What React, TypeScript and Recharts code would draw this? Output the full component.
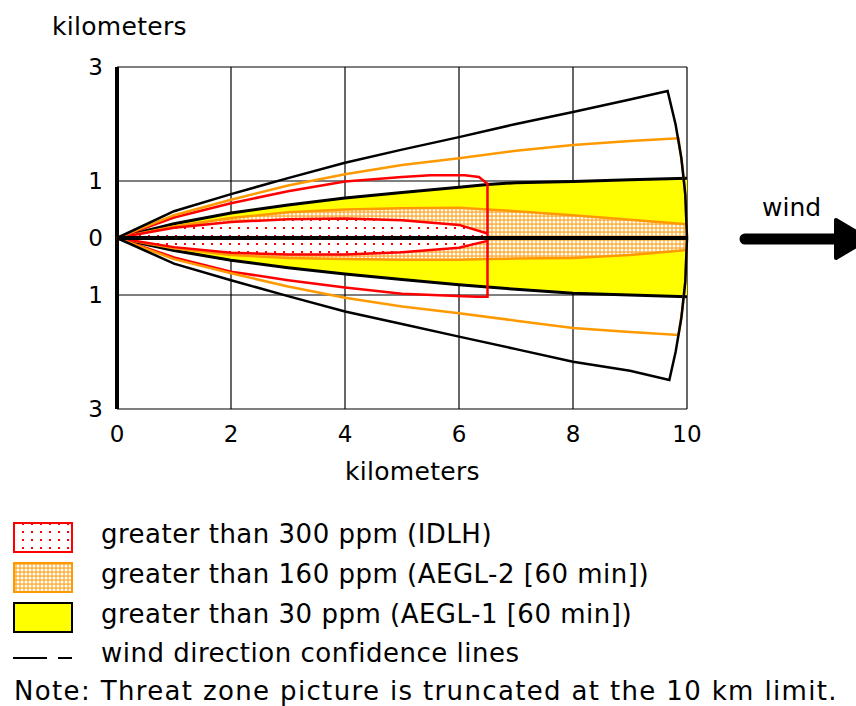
import React from 'react';
import { ComposedChart, Area, Scatter, XAxis, YAxis, CartesianGrid } from 'recharts';

const FONT = '"DejaVu Sans", Verdana, sans-serif';

// threat zone footprints, sampled along the wind axis (km)
const footX = [0, 1, 2, 3, 4, 5, 6, 6.5, 7, 8, 9, 10];
const aegl1Upper = [0, 0.25, 0.44, 0.58, 0.7, 0.8, 0.89, 0.94, 0.97, 0.99, 1.02, 1.05];
const aegl1Lower = [0, -0.22, -0.39, -0.52, -0.63, -0.73, -0.82, -0.86, -0.9, -0.97, -1.0, -1.03];
const aegl2Upper = [0, 0.2, 0.35, 0.45, 0.5, 0.52, 0.53, 0.5, 0.47, 0.4, 0.32, 0.24];
const aegl2Lower = [0, -0.18, -0.3, -0.35, -0.37, -0.38, -0.38, -0.37, -0.36, -0.35, -0.3, -0.21];
const idlhUpper = [0, 0.18, 0.28, 0.33, 0.34, 0.31, 0.23, 0.08, null, null, null, null];
const idlhLower = [0, -0.16, -0.26, -0.29, -0.29, -0.25, -0.17, -0.05, null, null, null, null];

// confidence lines, in drawing order (x km, y km)
const blackConfX = [0, 1, 2, 3, 4, 5, 6, 7, 8, 9, 9.66, 9.8, 9.9, 9.97, 10, 9.97, 9.9, 9.8, 9.69, 9, 8, 7, 6, 5, 4, 3, 2, 1, 0];
const blackConfY = [0, 0.47, 0.77, 1.05, 1.32, 1.55, 1.77, 2.0, 2.21, 2.43, 2.58, 1.99, 1.41, 0.77, 0, -0.77, -1.41, -2.0, -2.49, -2.33, -2.17, -1.95, -1.73, -1.51, -1.29, -1.02, -0.74, -0.45, 0];
const orangeConfX = [0, 1, 2, 3, 4, 5, 6, 7, 8, 9, 9.85, 9.92, 9.97, 10, 9.97, 9.92, 9.85, 9, 8, 7, 6, 5, 4, 3, 2, 1, 0];
const orangeConfY = [0, 0.4, 0.67, 0.92, 1.12, 1.28, 1.4, 1.53, 1.63, 1.7, 1.75, 1.25, 0.75, 0, -0.75, -1.25, -1.7, -1.65, -1.58, -1.45, -1.32, -1.2, -1.05, -0.85, -0.62, -0.37, 0];
const redConfX = [0, 1, 2, 3, 4, 5, 5.5, 6.1, 6.35, 6.5, 6.5, 6.3, 5, 4, 3, 2, 1, 0];
const redConfY = [0, 0.36, 0.61, 0.82, 0.99, 1.07, 1.1, 1.1, 1.07, 0.95, -1.03, -1.03, -0.98, -0.87, -0.74, -0.59, -0.34, 0];
const centerX = [0, 10];
const centerY = [0, 0];

const xTicks = [0, 2, 4, 6, 8, 10];
const yTicks = [-3, -1, 0, 1, 3];

const legendLabels = [
  'greater than 300 ppm (IDLH)',
  'greater than 160 ppm (AEGL-2 [60 min])',
  'greater than 30 ppm (AEGL-1 [60 min])',
  'wind direction confidence lines',
];
const noteText = 'Note: Threat zone picture is truncated at the 10 km limit.';

const table = footX.map((x, i) => ({
  x,
  aegl1: [aegl1Lower[i], aegl1Upper[i]],
  aegl2: [aegl2Lower[i], aegl2Upper[i]],
  idlh: idlhUpper[i] == null ? null : [idlhLower[i], idlhUpper[i]],
}));

const toPoints = (xs: number[], ys: number[]) => xs.map((x, i) => ({ x, y: ys[i] }));

const NoDot = () => <g />;

const Patterns = () => (
  <svg width={0} height={0} style={{ position: 'absolute' }}>
    <defs>
      <pattern id="redDots" width={9} height={8} patternUnits="userSpaceOnUse">
        <rect width={9} height={8} fill="#fff" />
        <rect x={4} y={3} width={2} height={2} fill="#ff0000" />
      </pattern>
      <pattern id="orangeDots" width={4} height={4} patternUnits="userSpaceOnUse">
        <rect width={4} height={4} fill="#ffb040" />
        <circle cx={2} cy={2} r={1.5} fill="#fff" />
      </pattern>
    </defs>
  </svg>
);

export default function App() {
  const txt = { fontFamily: FONT, fill: '#000' };
  const rowBase = [543, 583, 623, 662];
  return (
    <div style={{ position: 'absolute', left: 0, top: 0, width: 856, height: 706, background: '#fff', overflow: 'hidden' }}>
      <Patterns />
      <div style={{ position: 'absolute', left: 0, top: 0 }}>
        <ComposedChart
          width={856}
          height={706}
          data={table}
          margin={{ top: 67, right: 169, bottom: 267, left: 57 }}
        >
          <CartesianGrid stroke="#000" strokeWidth={1.2} />
          <XAxis
            dataKey="x"
            type="number"
            domain={[0, 10]}
            ticks={xTicks}
            height={30}
            axisLine={false}
            tickLine={false}
            tickMargin={11}
            tick={{ fontSize: 23, fontFamily: FONT, fill: '#000' }}
          />
          <YAxis
            dataKey="y"
            type="number"
            domain={[-3, 3]}
            ticks={yTicks}
            width={60}
            axisLine={{ stroke: '#000', strokeWidth: 4 }}
            tickLine={false}
            tickMargin={8}
            tickFormatter={(v: number) => String(Math.abs(v))}
            tick={{ fontSize: 23, fontFamily: FONT, fill: '#000' }}
          />
          <Area dataKey={(d: any) => d.aegl1} type="linear" fill="#ffff00" fillOpacity={1} stroke="#000" strokeWidth={3} dot={false} activeDot={false} isAnimationActive={false} />
          <Area dataKey={(d: any) => d.aegl2} type="linear" fill="url(#orangeDots)" fillOpacity={1} stroke="#ff9900" strokeWidth={2.5} dot={false} activeDot={false} isAnimationActive={false} />
          <Area dataKey={(d: any) => d.idlh} type="linear" fill="url(#redDots)" fillOpacity={1} stroke="#ff0000" strokeWidth={2.5} dot={false} activeDot={false} isAnimationActive={false} />
          <Scatter data={toPoints(redConfX, redConfY)} fill="none" line={{ stroke: '#ff0000', strokeWidth: 2.5 }} shape={NoDot} isAnimationActive={false} />
          <Scatter data={toPoints(orangeConfX, orangeConfY)} fill="none" line={{ stroke: '#ff9900', strokeWidth: 2.5 }} shape={NoDot} isAnimationActive={false} />
          <Scatter data={toPoints(blackConfX, blackConfY)} fill="none" line={{ stroke: '#000', strokeWidth: 2.5 }} shape={NoDot} isAnimationActive={false} />
          <Scatter data={toPoints(centerX, centerY)} fill="none" line={{ stroke: '#000', strokeWidth: 4 }} shape={NoDot} isAnimationActive={false} />
        </ComposedChart>
      </div>
      <svg width={856} height={706} style={{ position: 'absolute', left: 0, top: 0, pointerEvents: 'none' }}>
        <text x={52} y={35} fontSize={25} letterSpacing={0.3} {...txt}>kilometers</text>
        <text x={345} y={480} fontSize={25} letterSpacing={0.3} {...txt}>kilometers</text>
        <text x={762} y={216} fontSize={25} {...txt}>wind</text>
        <line x1={745} y1={239} x2={840} y2={239} stroke="#000" strokeWidth={11} strokeLinecap="round" />
        <polygon points="836,220 836,258 868,239" fill="#000" stroke="#000" strokeWidth={4} strokeLinejoin="round" />

        <rect x={14} y={523} width={58} height={29} fill="url(#redDots)" stroke="#ff0000" strokeWidth={2} />
        <rect x={14} y={563} width={58} height={29} fill="url(#orangeDots)" stroke="#ff9900" strokeWidth={2} />
        <rect x={14} y={603} width={58} height={29} fill="#ffff00" stroke="#000" strokeWidth={2} />
        <line x1={13} y1={658} x2={47} y2={658} stroke="#000" strokeWidth={2} />
        <line x1={58} y1={658} x2={72} y2={658} stroke="#000" strokeWidth={2} />
        {legendLabels.map((label, i) => (
          <text key={label} x={101} y={rowBase[i]} fontSize={26} letterSpacing={0.5} {...txt}>{label}</text>
        ))}
        <text x={14} y={700} fontSize={26} letterSpacing={1.35} {...txt}>{noteText}</text>
      </svg>
    </div>
  );
}
